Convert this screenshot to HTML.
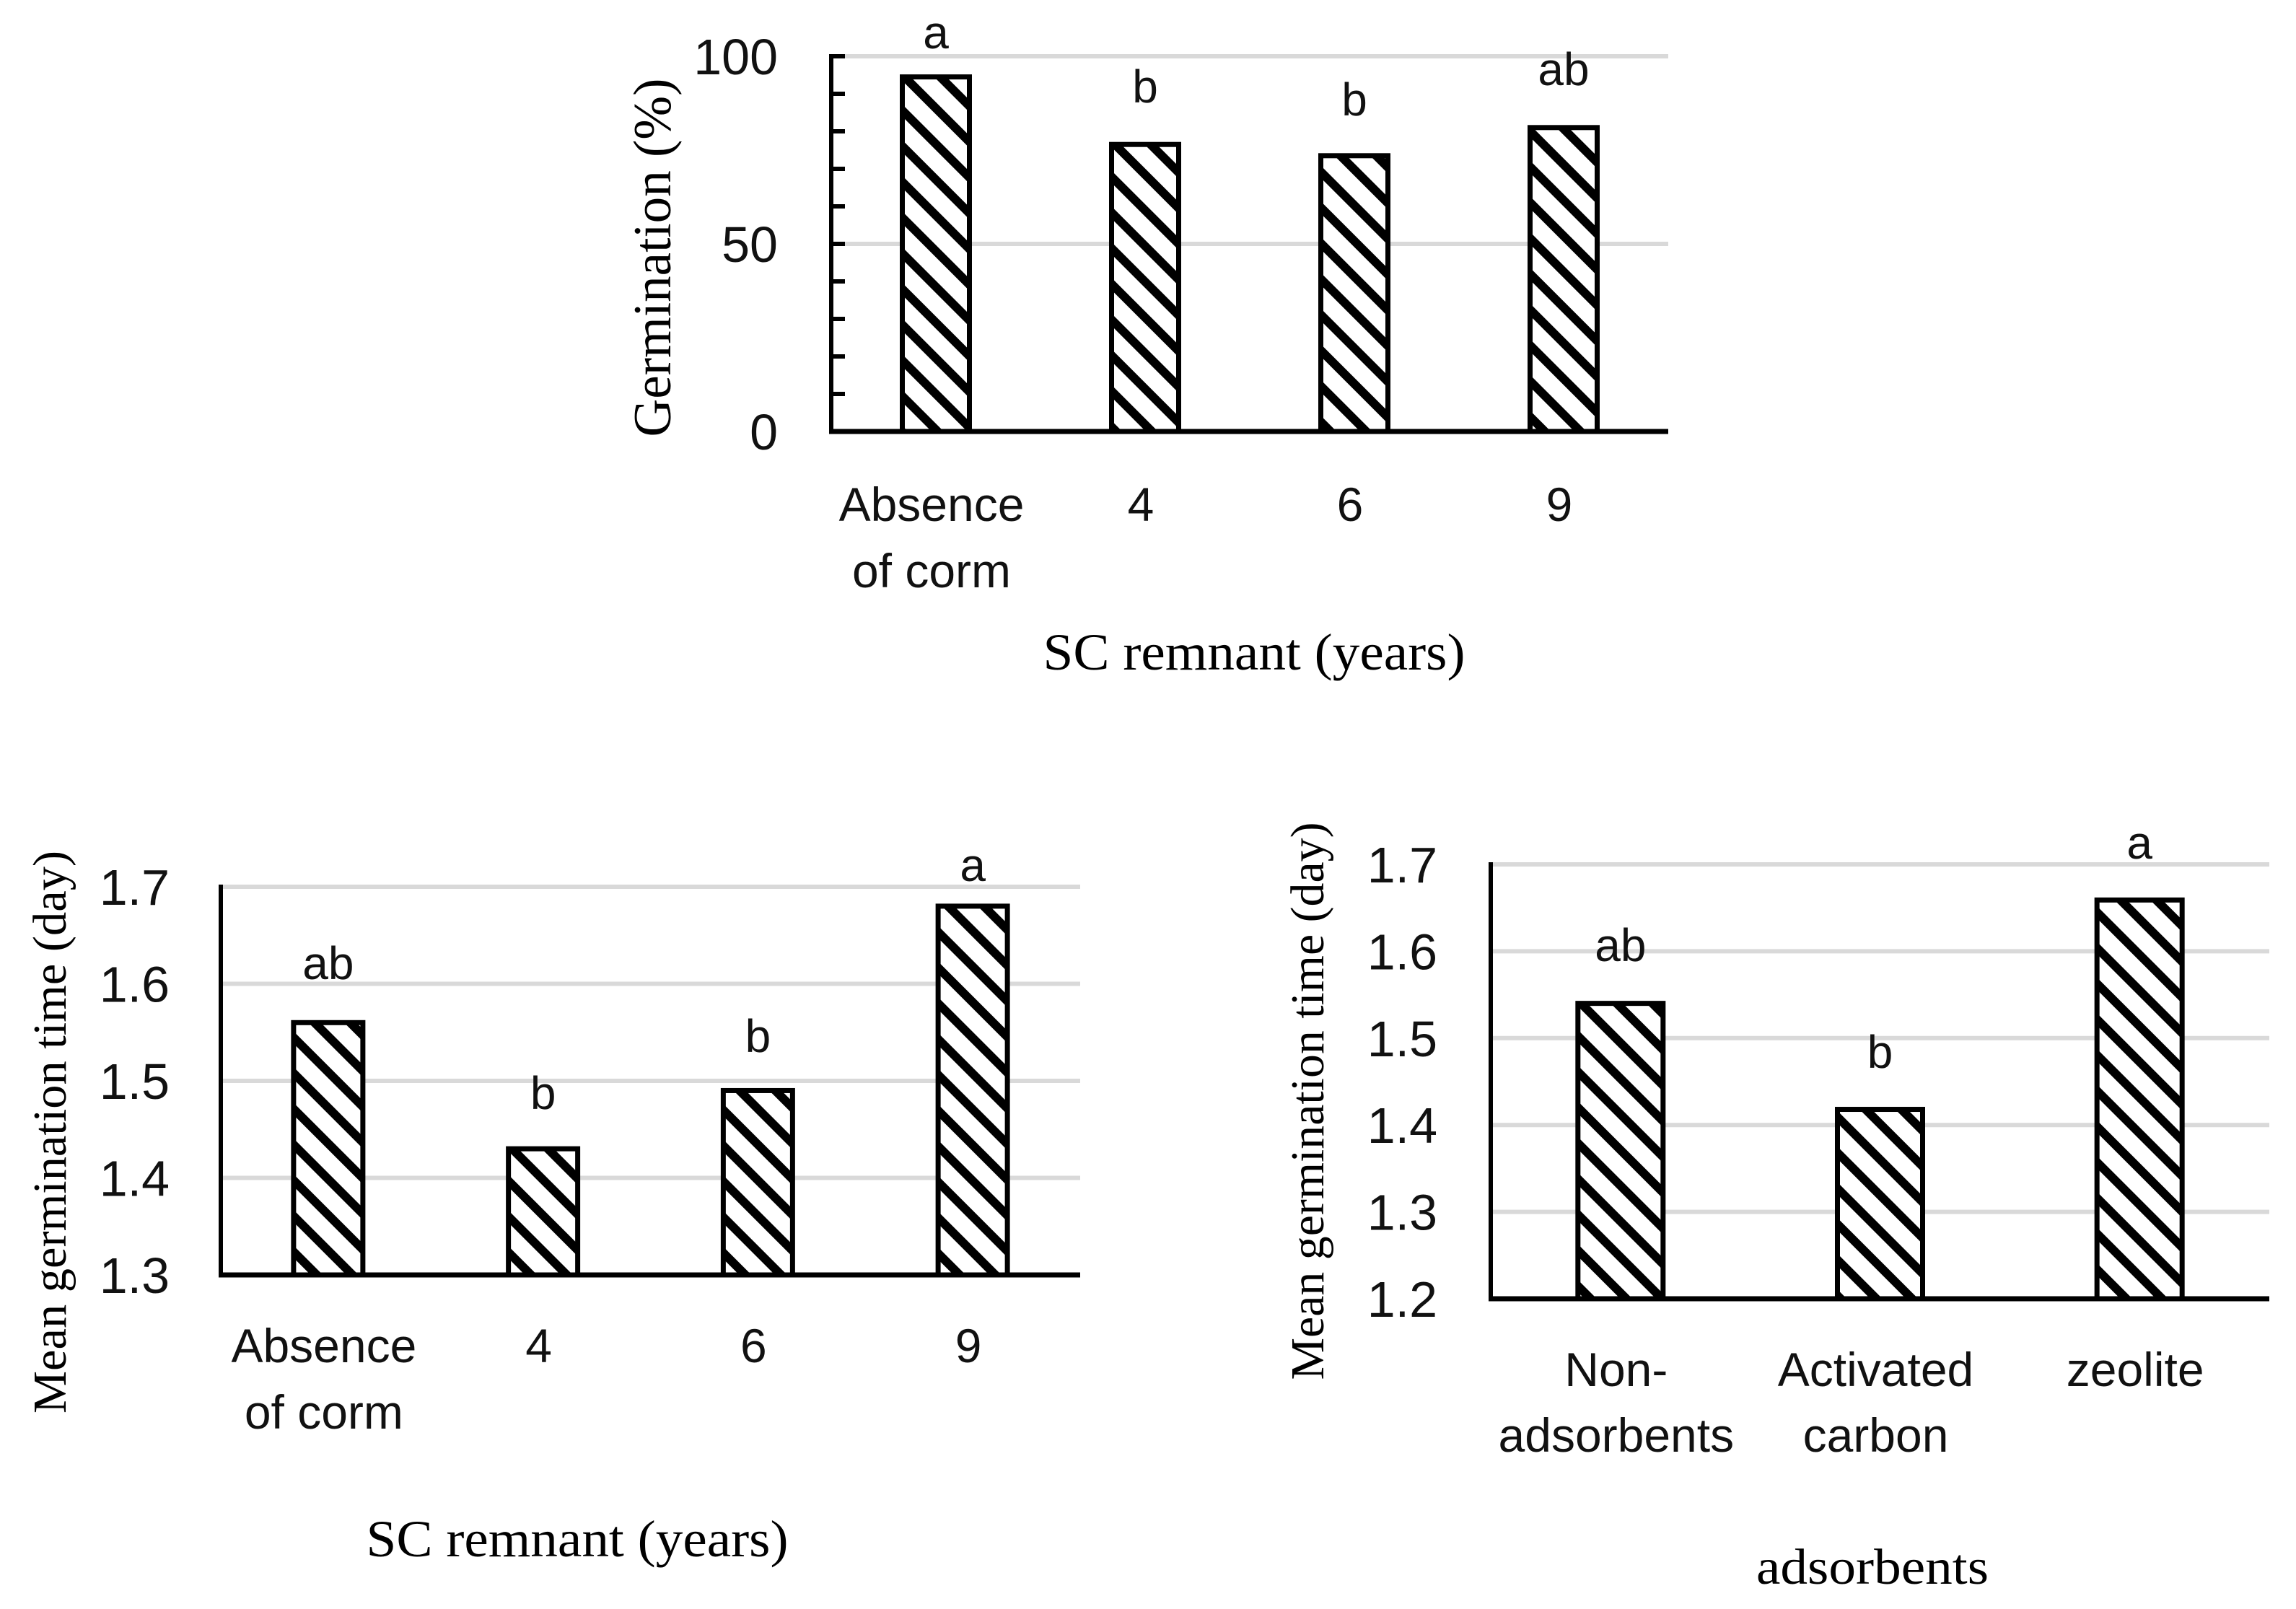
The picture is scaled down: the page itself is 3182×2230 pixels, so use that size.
<!DOCTYPE html>
<html><head><meta charset="utf-8"><style>
html,body{margin:0;padding:0;background:#fff;}
svg{display:block;}
.tk{font-family:"Liberation Sans",sans-serif;font-size:70px;fill:#111;}
.ct{font-family:"Liberation Sans",sans-serif;font-size:66px;fill:#111;}
.lt{font-family:"Liberation Sans",sans-serif;font-size:64px;fill:#111;}
.tt{font-family:"Liberation Serif",serif;fill:#000;}
</style></head><body>
<svg id="fig" width="3182" height="2230" viewBox="0 0 3182 2230" xmlns="http://www.w3.org/2000/svg">
<defs>
<pattern id="hatch" patternUnits="userSpaceOnUse" width="35" height="35" patternTransform="rotate(-45)">
<rect x="0" y="0" width="35" height="35" fill="#fff"/>
<rect x="0" y="0" width="12" height="35" fill="#000"/>
</pattern>
</defs>
</svg>
<script>
// Chart 1: Germination (%)
const c1Categories = [["Absence","of corm"],["4"],["6"],["9"]];
const c1Values = [94.5, 76.5, 73.5, 81];
const c1Letters = ["a","b","b","ab"];
const c1Ticks = [0, 50, 100];
// Chart 2: Mean germination time vs SC remnant
const c2Categories = [["Absence","of corm"],["4"],["6"],["9"]];
const c2Values = [1.56, 1.43, 1.49, 1.68];
const c2Letters = ["ab","b","b","a"];
const c2Ticks = [1.3, 1.4, 1.5, 1.6, 1.7];
// Chart 3: Mean germination time vs adsorbents
const c3Categories = [["Non-","adsorbents"],["Activated","carbon"],["zeolite"]];
const c3Values = [1.54, 1.418, 1.659];
const c3Letters = ["ab","b","a"];
const c3Ticks = [1.2, 1.3, 1.4, 1.5, 1.6, 1.7];

const NS = "http://www.w3.org/2000/svg";
const svg = document.getElementById('fig');
function mk(tag, attrs, parent){
  const e = document.createElementNS(NS, tag);
  for (const k in attrs) e.setAttribute(k, attrs[k]);
  (parent||svg).appendChild(e);
  return e;
}
function drawChart(o){
  const g = mk('g', {});
  
  
  const yScale = v => o.y0 - (v - o.vmin) / (o.vmax - o.vmin) * (o.y0 - o.y1);
  const n = o.cats.length;
  const step = (o.x1 - o.x0) / n;
  const xCenter = i => o.x0 + step * (i + 0.5);
  o.ticks.forEach(t => {
    if (t === o.vmin) return;
    const gl = mk('line', {x1:o.x0, x2:o.x1, y1:yScale(t), y2:yScale(t), stroke:'#d9d9d9', 'stroke-width':6}, g);
    
    
  });
  if (o.minor) {
    for (let v = o.vmin; v <= o.vmax + 1e-9; v += o.minor) {
      const mt = mk('line', {x1:o.x0, x2:o.x0 + 19, y1:yScale(v), y2:yScale(v), stroke:'#000', 'stroke-width':6}, g);
      
      
    }
  }
  o.ticks.forEach(t => {
    const tl = mk('text', {x:o.x0 - o.labelGap, y:yScale(t) + 25, 'text-anchor':'end', class:'tk'}, g);
    tl.textContent = o.fmt(t);
    
    
  });
  o.values.forEach((v, i) => {
    const cx = xCenter(i);
    const top = yScale(v);
    const b = mk('rect', {x:cx - o.bw/2, y:top, width:o.bw, height:o.y0 - top, fill:'url(#hatch)', stroke:'#000', 'stroke-width':7}, g);
    
    
    const lt = mk('text', {x:cx, y:o.letterY[i], 'text-anchor':'middle', class:'lt'}, g);
    lt.textContent = o.letters[i];
    
    
    o.cats[i].forEach((line, j) => {
      const cl = mk('text', {x:cx - 6, y:o.catY + j * o.catDy, 'text-anchor':'middle', class:'ct'}, g);
      cl.textContent = line;
      
      
    });
  });
  const ya = mk('line', {x1:o.x0, x2:o.x0, y1:o.y1 - 3, y2:o.y0 + 3, stroke:'#000', 'stroke-width':6}, g);
  
  
  const xa = mk('line', {x1:o.x0 - 3, x2:o.x1, y1:o.y0, y2:o.y0, stroke:'#000', 'stroke-width':7}, g);
  
  
  const xt = mk('text', {x:o.xt[0], y:o.xt[1], 'text-anchor':'middle', class:'tt', 'font-size':o.xt[3], textLength:o.xt[2], lengthAdjust:'spacingAndGlyphs'}, g);
  xt.textContent = o.xTitle;
  
  
  const yt = mk('text', {x:0, y:0, 'text-anchor':'middle', class:'tt', 'font-size':o.yt[3], textLength:o.yt[2], lengthAdjust:'spacingAndGlyphs', transform:'translate(' + o.yt[0] + ',' + o.yt[1] + ') rotate(-90)'}, g);
  yt.textContent = o.yTitle;
  
  
}

drawChart({name:'germination-chart', x0:1152, x1:2312, y0:598, y1:78, vmin:0, vmax:100,
  ticks:c1Ticks, minor:10, fmt:t => String(t), labelGap:74, bw:93,
  cats:c1Categories, values:c1Values, letters:c1Letters, letterY:[67,142,160,118],
  catY:722, catDy:92, xTitle:'SC remnant (years)', xt:[1738,928,585,72],
  yTitle:'Germination (%)', yt:[929,357,497,74]});

drawChart({name:'mgt-sc-remnant-chart', x0:306, x1:1497, y0:1767, y1:1229, vmin:1.3, vmax:1.7,
  ticks:c2Ticks, minor:0, fmt:t => t.toFixed(1), labelGap:71, bw:96,
  cats:c2Categories, values:c2Values, letters:c2Letters, letterY:[1357,1537,1458,1221],
  catY:1888, catDy:92, xTitle:'SC remnant (years)', xt:[800,2157,585,72],
  yTitle:'Mean germination time (day)', yt:[91,1569,780,66]});

drawChart({name:'mgt-adsorbents-chart', x0:2066, x1:3145, y0:1800, y1:1198, vmin:1.2, vmax:1.7,
  ticks:c3Ticks, minor:0, fmt:t => t.toFixed(1), labelGap:74, bw:118,
  cats:c3Categories, values:c3Values, letters:c3Letters, letterY:[1332,1480,1190],
  catY:1921, catDy:91, xTitle:'adsorbents', xt:[2595,2195,322,70],
  yTitle:'Mean germination time (day)', yt:[1834,1526,773,66]});
</script>
</body></html>
